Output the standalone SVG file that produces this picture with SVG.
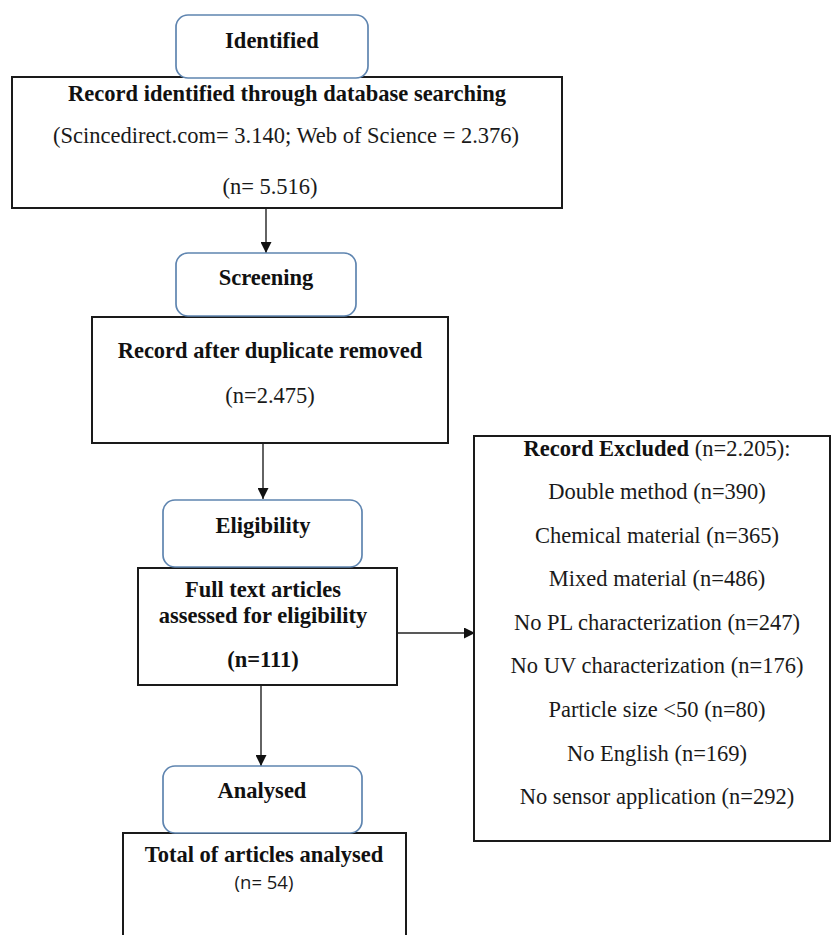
<svg xmlns="http://www.w3.org/2000/svg" width="832" height="935" viewBox="0 0 832 935">
<defs>
<marker id="ah" viewBox="0 0 10 10" refX="10" refY="5" markerWidth="11" markerHeight="11" markerUnits="userSpaceOnUse" orient="auto">
<path d="M0,0 L10,5 L0,10 z" fill="#111"/>
</marker>
</defs>
<style>
.box{fill:#fff;stroke:#1a1a1a;stroke-width:2}
.stage{fill:#fff;stroke:#5f85b0;stroke-width:1.7}
.b{font-family:"Liberation Serif","Times New Roman",serif;font-weight:bold;font-size:22.5px;fill:#111;text-anchor:middle}
.r{font-family:"Liberation Serif","Times New Roman",serif;font-size:22.5px;fill:#1a1a1a;text-anchor:middle}
.s{font-family:"Open Sans","Noto Sans",sans-serif;font-size:18.5px;fill:#1a1a1a;text-anchor:middle}
.c{stroke:#222;stroke-width:1.4;fill:none}
</style>
<rect width="832" height="935" fill="#fff"/>

<g id="connectors">
<line class="c" x1="266" y1="208" x2="266" y2="253" marker-end="url(#ah)"/>
<line class="c" x1="263" y1="443" x2="263" y2="499" marker-end="url(#ah)"/>
<line class="c" x1="397" y1="633" x2="475" y2="633" marker-end="url(#ah)"/>
<line class="c" x1="261" y1="685" x2="261" y2="766" marker-end="url(#ah)"/>
</g>

<g id="record-identified">
<rect class="box" x="12" y="77" width="550" height="131"/>
<text class="b" x="287" y="101">Record identified through database searching</text>
<text class="r" x="286" y="143">(Scincedirect.com= 3.140; Web of Science = 2.376)</text>
<text class="r" x="270" y="194">(n= 5.516)</text>
</g>
<g id="identified">
<rect class="stage" x="176" y="15" width="192" height="63" rx="12"/>
<text class="b" x="272" y="48">Identified</text>
</g>

<g id="record-after-duplicate">
<rect class="box" x="92" y="317" width="356" height="126"/>
<text class="b" x="270" y="358">Record after duplicate removed</text>
<text class="r" x="270" y="403">(n=2.475)</text>
</g>
<g id="screening">
<rect class="stage" x="176" y="253" width="180" height="63" rx="12"/>
<text class="b" x="266" y="285">Screening</text>
</g>

<g id="full-text">
<rect class="box" x="138" y="568" width="259" height="117"/>
<text class="b" x="263" y="597">Full text articles</text>
<text class="b" x="263" y="623">assessed for eligibility</text>
<text class="b" x="263" y="667">(n=111)</text>
</g>
<g id="eligibility">
<rect class="stage" x="163" y="500" width="199" height="67" rx="12"/>
<text class="b" x="263" y="533">Eligibility</text>
</g>

<g id="record-excluded">
<rect class="box" x="474" y="436" width="356" height="405"/>
<text class="r" x="657" y="456"><tspan font-weight="bold" fill="#111">Record Excluded</tspan> (n=2.205):</text>
<text class="r" x="657" y="499">Double method (n=390)</text>
<text class="r" x="657" y="543">Chemical material (n=365)</text>
<text class="r" x="657" y="586">Mixed material (n=486)</text>
<text class="r" x="657" y="630">No PL characterization (n=247)</text>
<text class="r" x="657" y="673">No UV characterization (n=176)</text>
<text class="r" x="657" y="717">Particle size &lt;50 (n=80)</text>
<text class="r" x="657" y="761">No English (n=169)</text>
<text class="r" x="657" y="804">No sensor application (n=292)</text>
</g>

<g id="total-analysed">
<rect class="box" x="123" y="833" width="283" height="120"/>
<text class="b" x="264" y="862">Total of articles analysed</text>
<text class="s" x="264" y="889">(n= 54)</text>
</g>
<g id="analysed">
<rect class="stage" x="163" y="766" width="199" height="67" rx="12"/>
<text class="b" x="262" y="798">Analysed</text>
</g>
</svg>
